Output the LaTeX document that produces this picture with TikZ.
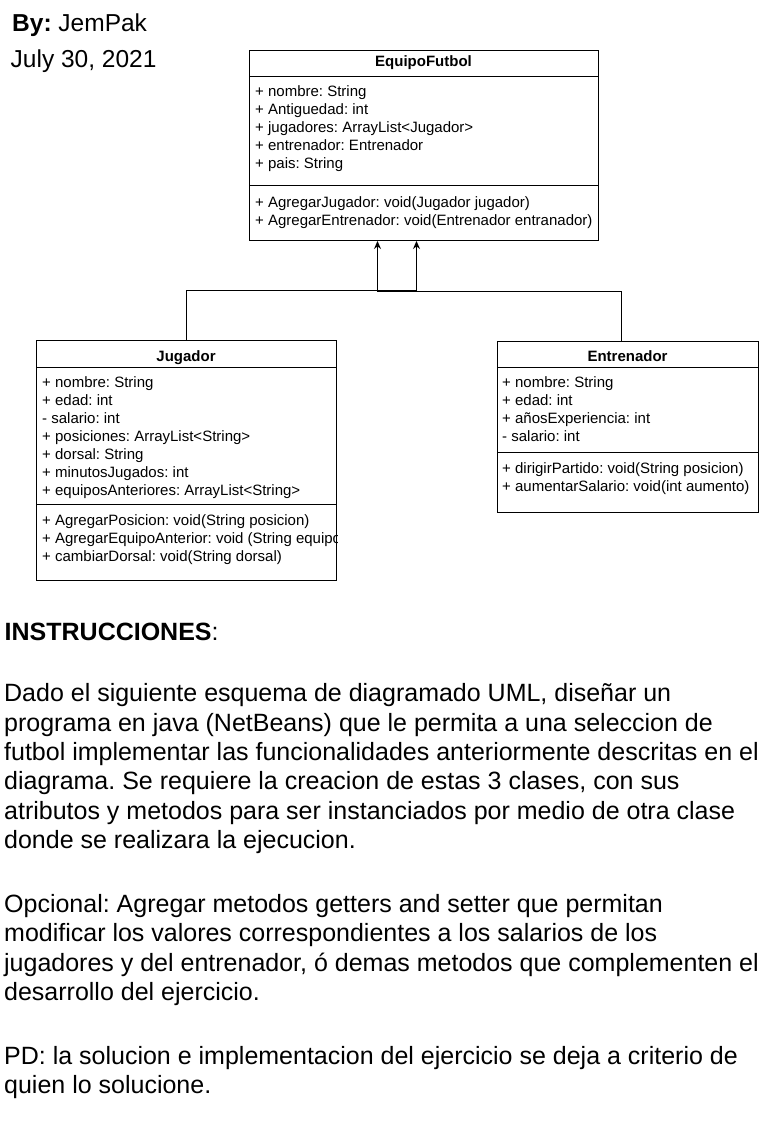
\documentclass[tikz,border=0pt]{standalone}
\usepackage{fontspec}
\setmainfont{Liberation Sans}
\usetikzlibrary{positioning,calc,arrows.meta}
\frenchspacing

\tikzset{
  classbox/.style={draw, line width=1pt, inner sep=0pt, anchor=north west},
  classtitle/.style={anchor=base, inner sep=0pt, font=\bfseries\fontsize{15}{18}\selectfont},
  member/.style={anchor=base west, inner sep=0pt, font=\fontsize{15}{18}\selectfont},
  bodytext/.style={anchor=base west, inner sep=0pt, font=\fontsize{25}{29}\selectfont},
  headtext/.style={anchor=base west, inner sep=0pt, font=\fontsize{24.5}{29}\selectfont},
  inherit/.style={line width=1pt, -{Stealth[length=8pt,width=7pt]}},
}

\begin{document}
\begin{tikzpicture}[x=1pt,y=-1pt]
    \fill[white] (0,0) rectangle (762,1128);
    \useasboundingbox (0,0) rectangle (762,1128);

    % header
    \node[headtext] (autor) at (12,31.5) {\textbf{By:} JemPak};
    \node[headtext] (fecha) at (10.5,67) {July 30, 2021};

    % EquipoFutbol
    \node[classbox, minimum width=349pt, minimum height=190pt] (equipo) at (249,50) {};
    \draw[line width=1pt] (equipo.west |- 0,76) -- (equipo.east |- 0,76);
    \draw[line width=1pt] (equipo.west |- 0,185) -- (equipo.east |- 0,185);
    \node[classtitle] (equipotit) at (423.5,66.5) {EquipoFutbol};
    \foreach \txt [count=\i from 0] in {{+ nombre: String}, {+ Antiguedad: int},
        {+ jugadores: ArrayList<Jugador>}, {+ entrenador: Entrenador}, {+ pais: String}}
        \node[member] (eqa\i) at (255,96+18*\i) {\txt};
    \foreach \txt [count=\i from 0] in {{+ AgregarJugador: void(Jugador jugador)},
        {+ AgregarEntrenador: void(Entrenador entranador)}}
        \node[member] (eqm\i) at (255,207+18*\i) {\txt};

    % Jugador
    \node[classbox, minimum width=300pt, minimum height=240pt] (jugador) at (36,340) {};
    \draw[line width=1pt] (jugador.west |- 0,367) -- (jugador.east |- 0,367);
    \draw[line width=1pt] (jugador.west |- 0,504) -- (jugador.east |- 0,504);
    \node[classtitle] (jugadortit) at (186,361.5) {Jugador};
    \foreach \txt [count=\i from 0] in {{+ nombre: String}, {+ edad: int}, {- salario: int},
        {+ posiciones: ArrayList<String>}, {+ dorsal: String}, {+ minutosJugados: int},
        {+ equiposAnteriores: ArrayList<String>}}
        \node[member] (jua\i) at (42,387+18*\i) {\txt};
    \begin{scope}
        \clip (jugador.south west) rectangle (jugador.north east);
        \foreach \txt [count=\i from 0] in {{+ AgregarPosicion: void(String posicion)},
            {+ AgregarEquipoAnterior: void (String equipo)}, {+ cambiarDorsal: void(String dorsal)}}
            \node[member] (jum\i) at (42,525+18*\i) {\txt};
    \end{scope}

    % Entrenador
    \node[classbox, minimum width=261pt, minimum height=171pt] (entrenador) at (497,341) {};
    \draw[line width=1pt] (entrenador.west |- 0,367) -- (entrenador.east |- 0,367);
    \draw[line width=1pt] (entrenador.west |- 0,452) -- (entrenador.east |- 0,452);
    \node[classtitle] (entrenadortit) at (627.5,361.5) {Entrenador};
    \foreach \txt [count=\i from 0] in {{+ nombre: String}, {+ edad: int},
        {+ añosExperiencia: int}, {- salario: int}}
        \node[member] (ena\i) at (502,387+18*\i) {\txt};
    \foreach \txt [count=\i from 0] in {{+ dirigirPartido: void(String posicion)},
        {+ aumentarSalario: void(int aumento)}}
        \node[member] (enm\i) at (502,473+18*\i) {\txt};

    % herencia
    \coordinate (tipa) at ([xshift=-46.5pt]equipo.south);
    \coordinate (tipb) at ([xshift=-7.5pt]equipo.south);
    \coordinate (entop) at ([xshift=-6.5pt]entrenador.north);
    \draw[inherit] (jugador.north) -- ++(0,-50) -| (tipb);
    \draw[inherit] (entop) -- ++(0,-50) -| (tipa);

    % instrucciones
    \node[bodytext] (titulo) at (4.5,640) {\textbf{INSTRUCCIONES}:};
    \foreach \txt [count=\i from 0] in {
        {Dado el siguiente esquema de diagramado UML, diseñar un},
        {programa en java (NetBeans) que le permita a una seleccion de},
        {futbol implementar las funcionalidades anteriormente descritas en el},
        {diagrama. Se requiere la creacion de estas 3 clases, con sus},
        {atributos y metodos para ser instanciados por medio de otra clase},
        {donde se realizara la ejecucion.}}
        \node[bodytext] (parA\i) at (4,701.7+29.4*\i) {\txt};
    \foreach \txt [count=\i from 0] in {
        {Opcional: Agregar metodos getters and setter que permitan},
        {modificar los valores correspondientes a los salarios de los},
        {jugadores y del entrenador, ó demas metodos que complementen el},
        {desarrollo del ejercicio.}}
        \node[bodytext] (parB\i) at (4,912.5+29.4*\i) {\txt};
    \foreach \txt [count=\i from 0] in {
        {PD: la solucion e implementacion del ejercicio se deja a criterio de},
        {quien lo solucione.}}
        \node[bodytext] (parC\i) at (4,1064.5+29.4*\i) {\txt};
\end{tikzpicture}
\end{document}
